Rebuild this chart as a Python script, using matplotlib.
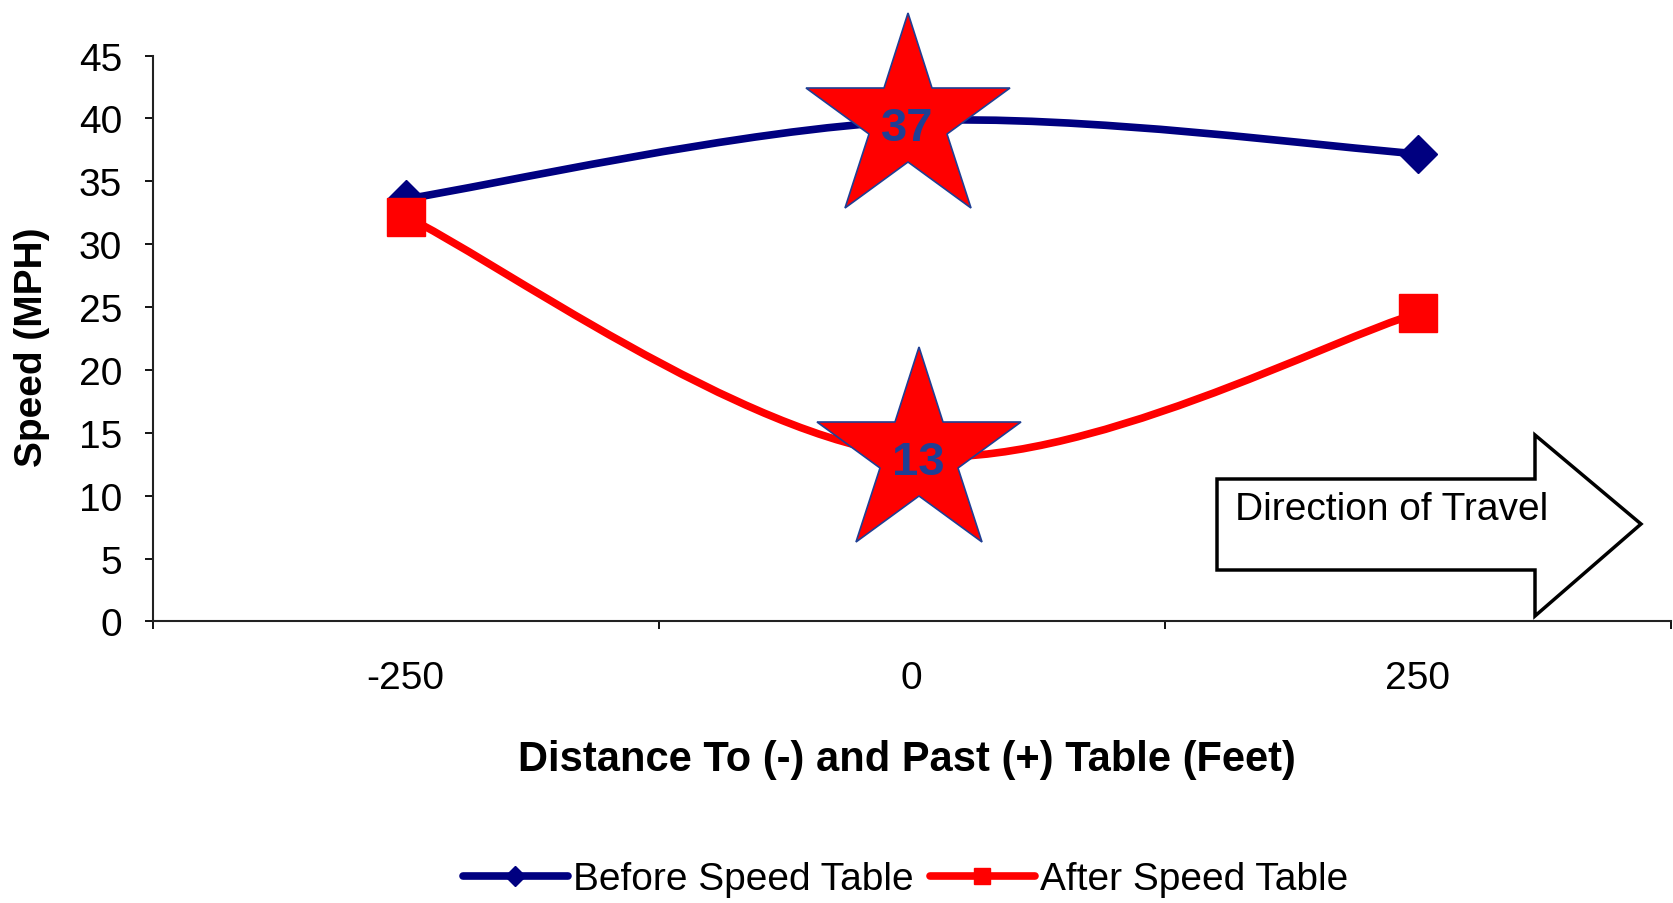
import numpy as np
import matplotlib
matplotlib.use("Agg")
import matplotlib.pyplot as plt
import matplotlib.transforms as mtransforms
from matplotlib.path import Path
from matplotlib.patches import PathPatch, Polygon
from matplotlib.lines import Line2D

plt.rcParams['font.family'] = ['Liberation Sans', 'DejaVu Sans']

# speed survey around the speed table
distance = [-250, 0, 250]
before_speed = [33.6, 39.8, 37.2]
after_speed = [32.2, 13.2, 24.5]
star_labels = ['37', '13']
series_names = ['Before Speed Table', 'After Speed Table']

navy = '#000080'
red = '#ff0000'
star_text = '#1f3f94'


def smooth_path(xs, ys):
    # Excel style smoothed line: cubic bezier through each point
    pts = np.column_stack([xs, ys]).astype(float)
    n = len(pts)
    verts = [pts[0]]
    codes = [Path.MOVETO]
    for i in range(n - 1):
        p0 = pts[max(i - 1, 0)]
        p1 = pts[i]
        p2 = pts[i + 1]
        p3 = pts[min(i + 2, n - 1)]
        c1 = p1 + (p2 - p0) / 6.0
        c2 = p2 - (p3 - p1) / 6.0
        verts += [c1, c2, p2]
        codes += [Path.CURVE4] * 3
    return Path(verts, codes)


W, H = 1674, 904
fig = plt.figure(figsize=(W / 100, H / 100), dpi=100)
ax = fig.add_axes([152.7 / W, 281.6 / H, (1670.8 - 152.7) / W, (622.4 - 56.6) / H])

ax.add_patch(PathPatch(smooth_path(distance, before_speed), fill=False,
                       edgecolor=navy, lw=5.5, capstyle='round', zorder=3))
ax.plot(distance, before_speed, ls='none', marker='D', ms=19, color=navy,
        zorder=4, clip_on=False)

ax.add_patch(PathPatch(smooth_path(distance, after_speed), fill=False,
                       edgecolor=red, lw=5.5, capstyle='round', zorder=5))
ax.plot(distance, after_speed, ls='none', marker='s', ms=28, color=red,
        zorder=6, clip_on=False)

# stars at the table itself, nudged a few pixels sideways
for vals, lab, dx in zip([before_speed, after_speed], star_labels, [-3, 5]):
    shift = ax.transData + mtransforms.ScaledTranslation(dx / 72, 0, fig.dpi_scale_trans)
    ax.plot(distance[1], vals[1], marker='*', ms=155, mfc=red, mec=star_text,
            mew=1.2, ls='none', zorder=8, clip_on=False, transform=shift)
    ax.annotate(lab, (distance[1], vals[1]), xytext=(dx, -5), textcoords='offset points',
                ha='center', va='center', fontsize=34, fontweight='bold',
                color=star_text, zorder=9)

ax.set_ylim(0, 45)
ax.set_xlim(-375, 375)
ax.set_yticks(np.arange(0, 46, 5))
ax.set_xticks([-375, -125, 125, 375])
ax.set_xticklabels([])
ax.set_xticks(distance, minor=True)
ax.set_xticklabels([str(d) for d in distance], minor=True)
ax.tick_params(axis='x', which='major', length=6, width=1.3, direction='out')
ax.tick_params(axis='x', which='minor', length=0, pad=28, labelsize=28)
ax.tick_params(axis='y', length=6, width=1.3, direction='out', pad=16, labelsize=28)

for s in ['top', 'right']:
    ax.spines[s].set_visible(False)
for s in ['left', 'bottom']:
    ax.spines[s].set_linewidth(1.5)
    ax.spines[s].set_color('#222222')

ax.set_xlabel('Distance To (-) and Past (+) Table (Feet)', fontsize=30, fontweight='bold')
ax.xaxis.set_label_coords(0.497, -0.243)
ax.xaxis.label.set_va('center')
ax.set_ylabel('Speed (MPH)', fontsize=28, fontweight='bold')
ax.yaxis.set_label_coords(-0.0795, 0.487)
ax.yaxis.label.set_va('center')

# direction of travel block arrow
arrow_px = [(1217, 480), (1535, 480), (1535, 436), (1641, 525),
            (1535, 617), (1535, 571), (1217, 571)]
arrow = Polygon([(x / W, 1 - y / H) for x, y in arrow_px], closed=True,
                facecolor='white', edgecolor='black', lw=2.5,
                transform=fig.transFigure, zorder=10)
fig.patches.append(arrow)
fig.text(1235 / W, 1 - 510 / H, 'Direction of Travel', fontsize=28,
         ha='left', va='center', zorder=11)

handles = [Line2D([], [], color=navy, lw=5.5, marker='D', ms=10, solid_capstyle='round'),
           Line2D([], [], color=red, lw=5.5, marker='s', ms=12, solid_capstyle='round')]
fig.legend(handles, series_names, loc='center', bbox_to_anchor=(0.541, 0.026),
           ncol=2, frameon=False, fontsize=28, handlelength=2.7,
           handletextpad=0.15, columnspacing=0.4)

fig.savefig('out.png', dpi=100)
